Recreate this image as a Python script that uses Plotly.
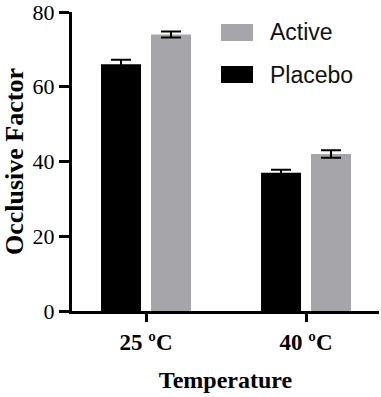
import plotly.graph_objects as go

categories = ["25 ºC", "40 ºC"]
placebo = [66.0, 37.0]
placebo_err = [1.2, 0.8]
active = [74.0, 42.0]
active_err = [0.8, 1.0]
y_ticks = [0, 20, 40, 60, 80]

BLACK = "#000000"
GRAY = "#A6A6AA"
serif = "Liberation Serif, Times New Roman, serif"
sans = "Liberation Sans, Arial, sans-serif"

fig = go.Figure()
fig.add_trace(go.Bar(x=categories, y=placebo, name="Placebo", marker=dict(color=BLACK, line=dict(width=0)),
                     error_y=dict(type="data", array=placebo_err, color=BLACK, thickness=2, width=10)))
fig.add_trace(go.Bar(x=categories, y=active, name="Active", marker=dict(color=GRAY, line=dict(width=0)),
                     error_y=dict(type="data", array=active_err, color=BLACK, thickness=2, width=10)))

# legend drawn manually
legend_items = [("Active", GRAY), ("Placebo", BLACK)]
W, H = 381, 397
ml, mr, mt, mb = 72, 2, 12, 86
pw, ph = W - ml - mr, H - mt - mb
for i, (name, col) in enumerate(legend_items):
    y0 = 24 + i * 42
    fig.add_shape(type="rect", xref="paper", yref="paper",
                  x0=(221 - ml) / pw, x1=(253 - ml) / pw,
                  y0=1 - (y0 + 17 - mt) / ph, y1=1 - (y0 - mt) / ph,
                  fillcolor=col, line=dict(width=0))
    fig.add_annotation(xref="paper", yref="paper", x=(268 - ml) / pw, y=1 - (y0 + 8.5 - mt) / ph,
                       text=name, showarrow=False, xanchor="left", yanchor="middle",
                       font=dict(family=sans, size=23, color="#111"))

fig.update_layout(
    width=W, height=H,
    margin=dict(l=ml, r=mr, t=mt, b=mb, autoexpand=False),
    plot_bgcolor="white", paper_bgcolor="white",
    barmode="group", bargap=0.375, bargroupgap=0.2,
    showlegend=False,
)
fig.update_xaxes(
    range=[-0.4625, 1.456], showline=True, linecolor=BLACK, linewidth=3,
    ticks="outside", ticklen=8, tickwidth=3, tickcolor=BLACK,
    tickfont=dict(family=serif, size=23, color=BLACK),
    title=dict(text="<b>Temperature</b>", font=dict(family=serif, size=24, color=BLACK), standoff=18),
    showgrid=False, zeroline=False, automargin=False,
    tickprefix="<b>", ticksuffix="</b>",
)
fig.update_yaxes(
    range=[0, 80], tickvals=y_ticks, showline=True, linecolor=BLACK, linewidth=3,
    ticks="outside", ticklen=10, tickwidth=3, tickcolor=BLACK,
    tickfont=dict(family=serif, size=22, color=BLACK),
    tickprefix="<b>", ticksuffix="</b>", ticklabeloverflow="allow",
    title=dict(text="<b>Occlusive Factor</b>", font=dict(family=serif, size=26, color=BLACK), standoff=4),
    showgrid=False, zeroline=False, automargin=False,
)
fig.write_html("out.html", config={"displayModeBar": False},
               post_script="document.body.style.margin='0';document.body.style.overflow='hidden';")
